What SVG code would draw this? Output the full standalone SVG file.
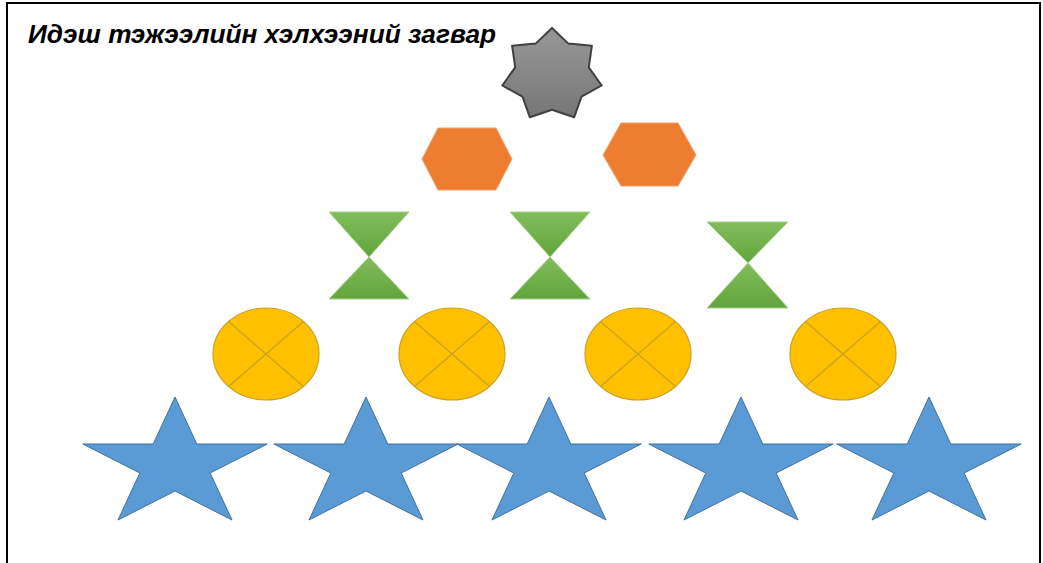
<svg xmlns="http://www.w3.org/2000/svg" width="1043" height="563" viewBox="0 0 1043 563">
<style>
.title{font-family:"Liberation Sans",Arial,sans-serif;font-weight:bold;font-style:italic;font-size:26px;fill:#000}
.hex{fill:#ED7D31;stroke:#F4A06A;stroke-width:1}
.hg{fill:url(#gGreen);stroke:#A9D18E;stroke-width:1}
.ell{fill:#FFC000;stroke:#C9A227;stroke-width:1.2}
.x{stroke:#C9A227;stroke-width:1.2}
.star5{fill:#5B9BD5;stroke:#41719C;stroke-width:1}
</style>
<defs>
<linearGradient id="gGreen" x1="0" y1="0" x2="0" y2="1">
<stop offset="0" stop-color="#82BC5C"/>
<stop offset="1" stop-color="#62A53C"/>
</linearGradient>
<linearGradient id="gGray" x1="0" y1="0" x2="0" y2="1">
<stop offset="0" stop-color="#979797"/>
<stop offset="1" stop-color="#777777"/>
</linearGradient>
<path id="s5" d="M0,-68 L21.8,-21 L92.2,-21 L35.2,8 L57,55 L0,26 L-57,55 L-35.2,8 L-92.2,-21 L-21.8,-21 Z"/>
</defs>
<rect x="0" y="0" width="1043" height="563" fill="#fff"/>
<rect x="7" y="3" width="1033" height="575" fill="#fff" stroke="#000" stroke-width="2"/>
<g id="title"><text class="title" x="28" y="43" textLength="468" lengthAdjust="spacingAndGlyphs">Идэш тэжээлийн хэлхээний загвар</text></g>
<g id="star7"><polygon points="552,28 568.4,43.6 591.9,45.7 588.8,67.3 601.7,85.5 581.5,96.7 574.1,117.3 552,109.8 529.9,117.3 522.5,96.7 502.3,85.5 515.2,67.3 512.1,45.7 535.6,43.6" fill="url(#gGray)" stroke="#404040" stroke-width="2" stroke-linejoin="round"/></g>
<g id="hex1"><polygon class="hex" points="422,159 438,128 496,128 512,159 496,190 438,190"/></g>
<g id="hex2"><polygon class="hex" points="603,155 621,123 678,123 696,155 678,186 621,186"/></g>
<g id="hg1"><polygon class="hg" points="329,212 409,212 369,257"/><polygon class="hg" points="369,257 409,299 329,299"/></g>
<g id="hg2"><polygon class="hg" points="510,212 590,212 550,257"/><polygon class="hg" points="550,257 590,299 510,299"/></g>
<g id="hg3"><polygon class="hg" points="707,222 788,222 748,263"/><polygon class="hg" points="748,263 788,308 707,308"/></g>
<g id="ell1"><ellipse class="ell" cx="266" cy="354" rx="53" ry="46"/><path class="x" d="M228.5,321.5 L303.5,386.5 M303.5,321.5 L228.5,386.5"/></g>
<g id="ell2"><ellipse class="ell" cx="452" cy="354" rx="53" ry="46"/><path class="x" d="M414.5,321.5 L489.5,386.5 M489.5,321.5 L414.5,386.5"/></g>
<g id="ell3"><ellipse class="ell" cx="638" cy="354" rx="53" ry="46"/><path class="x" d="M600.5,321.5 L675.5,386.5 M675.5,321.5 L600.5,386.5"/></g>
<g id="ell4"><ellipse class="ell" cx="843" cy="354" rx="53" ry="46"/><path class="x" d="M805.5,321.5 L880.5,386.5 M880.5,321.5 L805.5,386.5"/></g>
<g id="star1"><use href="#s5" class="star5" transform="translate(175,465)"/></g>
<g id="star2"><use href="#s5" class="star5" transform="translate(366,465)"/></g>
<g id="star3"><use href="#s5" class="star5" transform="translate(549,465)"/></g>
<g id="star4"><use href="#s5" class="star5" transform="translate(741,465)"/></g>
<g id="star5"><use href="#s5" class="star5" transform="translate(929,465)"/></g>
<g id="connectors"/>
</svg>
